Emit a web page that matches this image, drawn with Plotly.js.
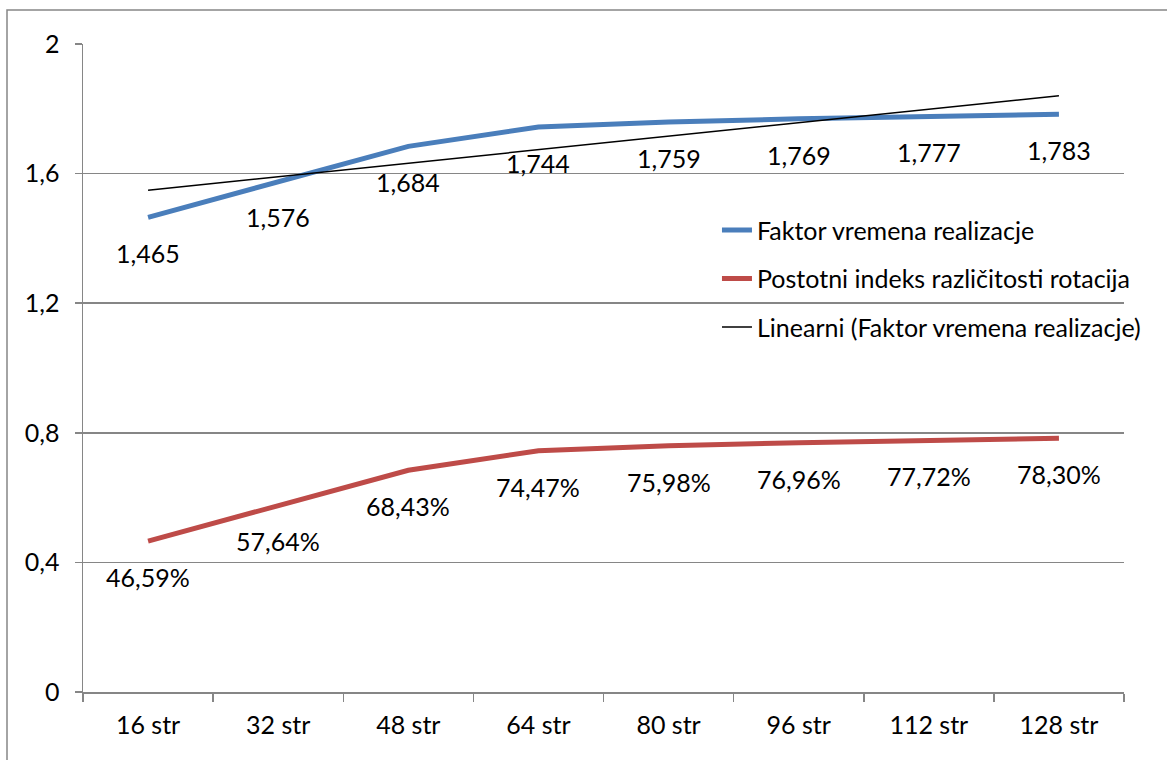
<!DOCTYPE html>
<html>
<head>
<meta charset="utf-8">
<script src="https://cdn.plot.ly/plotly-3.0.1.min.js"></script>
<style>
  html, body { margin: 0; padding: 0; background: #fff; }
  #chart { width: 1167px; height: 760px; }
</style>
</head>
<body>
<div id="chart"></div>
<script>
const categories = ["16 str", "32 str", "48 str", "64 str", "80 str", "96 str", "112 str", "128 str"];
const faktorValues = [1.465, 1.576, 1.684, 1.744, 1.759, 1.769, 1.777, 1.783];
const indeksValues = [0.4659, 0.5764, 0.6843, 0.7447, 0.7598, 0.7696, 0.7772, 0.7830];
const faktorLabels = ["1,465", "1,576", "1,684", "1,744", "1,759", "1,769", "1,777", "1,783"];
const indeksLabels = ["46,59%", "57,64%", "68,43%", "74,47%", "75,98%", "76,96%", "77,72%", "78,30%"];
const yTickVals = [0, 0.4, 0.8, 1.2, 1.6, 2];
const yTickText = ["0", "0,4", "0,8", "1,2", "1,6", "2"];

const seriesNames = ["Faktor vremena realizacje", "Postotni indeks različitosti rotacija", "Linearni (Faktor vremena realizacje)"];

// Linear trendline (least squares over category index 1..n), as Excel does
const n = faktorValues.length;
const xs = faktorValues.map((_, i) => i + 1);
const mx = xs.reduce((a, b) => a + b, 0) / n;
const my = faktorValues.reduce((a, b) => a + b, 0) / n;
let sxy = 0, sxx = 0;
for (let i = 0; i < n; i++) { sxy += (xs[i] - mx) * (faktorValues[i] - my); sxx += (xs[i] - mx) ** 2; }
const slope = sxy / sxx, intercept = my - slope * mx;
const trendValues = xs.map(x => intercept + slope * x);

const FONT = "Lato, 'Open Sans', sans-serif";
const FS = 25;
const GRAY = "#868686";

const traces = [
  { x: categories, y: faktorValues, type: "scatter", mode: "lines", name: seriesNames[0],
    legendgroup: "a", line: { color: "#4A7EBB", width: 5 }, hoverinfo: "skip" },
  { x: categories, y: indeksValues, type: "scatter", mode: "lines", name: seriesNames[1],
    legendgroup: "b", line: { color: "#BE4B48", width: 5 }, hoverinfo: "skip" },
  { x: categories, y: trendValues, type: "scatter", mode: "lines", name: seriesNames[2],
    legendgroup: "c", line: { color: "#000000", width: 1.5 }, hoverinfo: "skip" }
];

const annotations = [];
categories.forEach((c, i) => {
  annotations.push({ x: c, y: faktorValues[i], xref: "x", yref: "y", text: faktorLabels[i],
    showarrow: false, yshift: -36, font: { family: FONT, size: FS, color: "#000" } });
  annotations.push({ x: c, y: indeksValues[i], xref: "x", yref: "y", text: indeksLabels[i],
    showarrow: false, yshift: -36, font: { family: FONT, size: FS, color: "#000" } });
});

const W = 1041, H = 648;
const layout = {
  width: 1167, height: 760,
  margin: { l: 83, r: 43, t: 44, b: 68, pad: 0 },
  paper_bgcolor: "#fff", plot_bgcolor: "#fff",
  font: { family: FONT, size: FS, color: "#000" },
  showlegend: true,
  legend: {
    x: 0.609, y: 0.748, xanchor: "left", yanchor: "top",
    bgcolor: "rgba(0,0,0,0)", borderwidth: 0,
    font: { family: FONT, size: FS, color: "#000" },
    tracegroupgap: 13
  },
  xaxis: {
    type: "category", range: [-0.5, 7.5], showgrid: false,
    showline: true, linecolor: GRAY, linewidth: 1.5,
    ticks: "outside", ticklen: 8, tickcolor: GRAY, tickwidth: 1.5,
    tickson: "boundaries", zeroline: false, ticklabelstandoff: 10,
    tickfont: { family: FONT, size: FS, color: "#000" }, fixedrange: true
  },
  yaxis: {
    range: [0, 2], tickvals: yTickVals, ticktext: yTickText,
    showgrid: true, gridcolor: GRAY, gridwidth: 1.5,
    showline: true, linecolor: GRAY, linewidth: 1.5,
    ticks: "outside", ticklen: 7, tickcolor: GRAY, tickwidth: 1.5,
    ticklabelstandoff: 10, zeroline: false,
    tickfont: { family: FONT, size: FS, color: "#000" }, fixedrange: true
  },
  annotations: annotations,
  shapes: [{
    type: "rect", xref: "paper", yref: "paper",
    x0: (7 - 83) / W, x1: 1.2, y0: -0.3, y1: 1 + (44 - 10) / H,
    line: { color: GRAY, width: 1.5 }, fillcolor: "rgba(0,0,0,0)", layer: "below"
  }]
};

Plotly.newPlot("chart", traces, layout, { displayModeBar: false, staticPlot: true });
</script>
</body>
</html>
